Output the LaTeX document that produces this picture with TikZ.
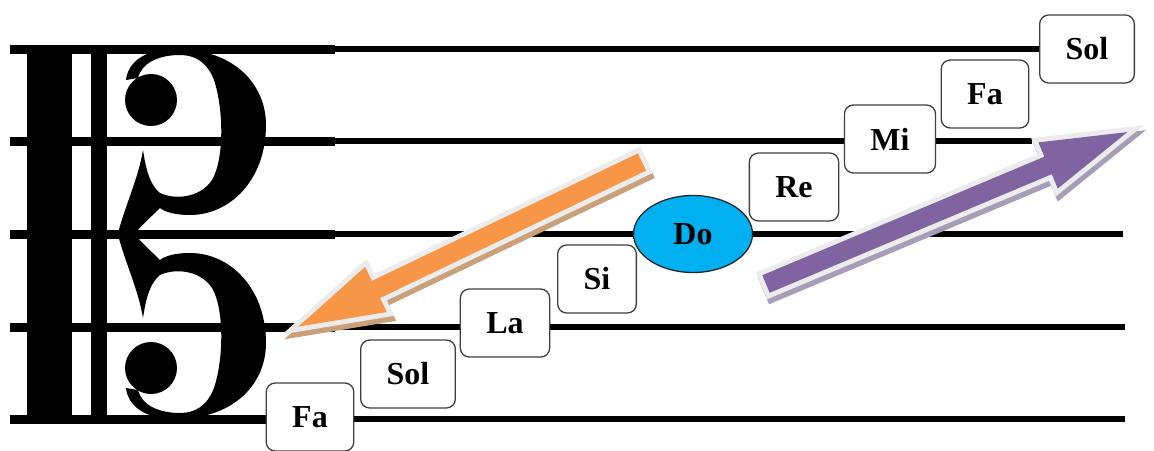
\documentclass[tikz,border=0pt]{standalone}
\usepackage{fontspec}
\setmainfont{Liberation Serif}
\usetikzlibrary{shapes.geometric}

\definecolor{doblue}{HTML}{00B0F0}
\definecolor{downorange}{HTML}{F79646}
\definecolor{downshadow}{HTML}{C9A07A}
\definecolor{uppurple}{HTML}{8064A2}
\definecolor{upshadow}{HTML}{A89DB8}
\definecolor{glowgrey}{HTML}{ECECEC}

% block arrow along the x axis, tail at the origin
\newcommand{\arrowpath}[1]{(0,-9.5) -- (#1-86,-9.5) -- (#1-86,-25) -- (#1,0) -- (#1-86,25) -- (#1-86,9.5) -- (0,9.5) -- cycle}

\begin{document}
\begin{tikzpicture}[x=1pt,y=-1pt,
    notebox/.style={draw=black!75, line width=1.3pt, fill=white, rounded corners=9pt,
        minimum height=68pt, inner xsep=26pt, font=\bfseries\fontsize{32}{38}\selectfont},
    donote/.style={ellipse, draw=black!85, line width=1.3pt, fill=doblue,
        minimum width=119pt, minimum height=77pt, inner sep=0pt,
        font=\bfseries\fontsize{32}{38}\selectfont}]

    \useasboundingbox (0,0) rectangle (1154,450);

    % staff lines
    \foreach \y/\xend in {49/1040, 141/1032, 234/1123, 327/1125, 419/1125} {
        \draw[line width=9pt] (10,\y) -- (335,\y);
        \draw[line width=5.5pt] (335,\y) -- (\xend,\y);
    }

    % clef bars
    \fill (27,45) rectangle (72,423);
    \fill (91,45) rectangle (107,423);

    % clef curls, upper half and its mirror
    \foreach \s in {1,-1} {
        \begin{scope}[shift={(0,234)}, yscale=\s]
            \fill (117,3) .. controls (125,-29) and (138,-54) .. (143,-84)
                .. controls (146,-64) and (150,-49) .. (160,-41)
                .. controls (175,-34) and (200,-36) .. (212,-54)
                .. controls (224,-74) and (224,-124) .. (214,-154)
                .. controls (207,-172) and (195,-179) .. (180,-179)
                .. controls (160,-179) and (142,-172) .. (138,-156)
                -- (126,-154)
                .. controls (128,-172) and (145,-185) .. (175,-185)
                .. controls (235,-185) and (266,-149) .. (266,-109)
                .. controls (266,-54) and (230,-19) .. (190,-19)
                .. controls (175,-19) and (165,-22) .. (160,-26)
                .. controls (150,-16) and (138,-6) .. (133,3)
                -- cycle;
            \fill (151,-134) circle (26);
        \end{scope}
    }

    % note names
    \foreach \name/\x/\y/\txt in {fa1/310/417/Fa, sol1/408/374/Sol, la/505/323/La, si/597/279/Si,
            re/794/187/Re, mi/890/139/Mi, fa2/985/94/Fa, sol2/1087/49/Sol}
        \node[notebox] (\name) at (\x,\y) {\txt};
    \node[donote] (do) at (693,234) {Do};

    % downward arrow
    \begin{scope}[shift={(644,167)}, rotate=205.6]
        \filldraw[downshadow, line width=10pt] \arrowpath{381};
    \end{scope}
    \begin{scope}[shift={(642,162)}, rotate=205.6]
        \draw[glowgrey, line width=10pt] \arrowpath{381};
        \fill[downorange] \arrowpath{381};
    \end{scope}

    % upward arrow
    \begin{scope}[shift={(768,289)}, rotate=22.8]
        \filldraw[upshadow, line width=10pt] \arrowpath{392};
    \end{scope}
    \begin{scope}[shift={(766,284)}, rotate=22.8]
        \draw[glowgrey, line width=10pt] \arrowpath{392};
        \fill[uppurple] \arrowpath{392};
    \end{scope}

\end{tikzpicture}
\end{document}
